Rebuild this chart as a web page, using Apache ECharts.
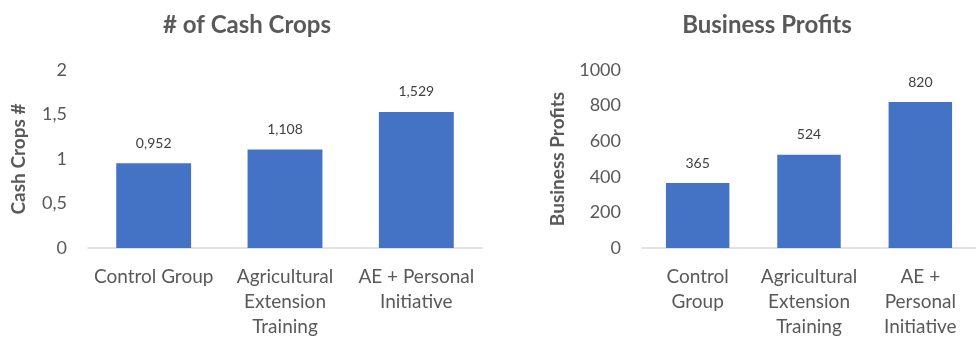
<!DOCTYPE html>
<html><head><meta charset="utf-8">
<script src="https://cdn.jsdelivr.net/npm/echarts@6/dist/echarts.min.js"></script>
<style>html,body{margin:0;padding:0;background:#fff}#c{width:976px;height:340px}</style>
</head><body><div id="c"></div>
<script>
const cropCategories = ['Control Group', 'Agricultural\nExtension\nTraining', 'AE + Personal\nInitiative'];
const cropValues = [0.952, 1.108, 1.529];
const profitCategories = ['Control\nGroup', 'Agricultural\nExtension\nTraining', 'AE +\nPersonal\nInitiative'];
const profitValues = [365, 524, 820];
const cropTicks = ['0', '0,5', '1', '1,5', '2'];
const profitTicks = ['0', '200', '400', '600', '800', '1000'];

const FONT = 'Lato';
const chart = echarts.init(document.getElementById('c'), null, {renderer: 'canvas'});
function xAx(idx, cats) {
  return {
    type: 'category', gridIndex: idx, data: cats,
    axisLine: {lineStyle: {color: '#d9d9d9', width: 1.5}},
    axisTick: {show: false},
    axisLabel: {color: '#595959', fontFamily: FONT, fontSize: 19, lineHeight: 25, margin: 16, interval: 0}
  };
}
function yAx(idx, max, interval, ticks, name, gap) {
  return {
    type: 'value', gridIndex: idx, min: 0, max: max, interval: interval,
    splitLine: {show: false}, axisLine: {show: false}, axisTick: {show: false},
    axisLabel: {color: '#595959', fontFamily: FONT, fontSize: 18, margin: 21,
      formatter: (v) => ticks[Math.round(v / interval)]},
    name: name, nameLocation: 'middle', nameGap: gap,
    nameTextStyle: {color: '#595959', fontFamily: FONT, fontSize: 19, fontWeight: 'bold'}
  };
}
chart.setOption({
  animation: false,
  title: [
    {text: '# of Cash Crops', left: 242, top: 8, textAlign: 'center',
      textStyle: {color: '#595959', fontFamily: FONT, fontSize: 24, fontWeight: 'bold'}},
    {text: 'Business Profits', left: 762, top: 8, textAlign: 'center',
      textStyle: {color: '#595959', fontFamily: FONT, fontSize: 24, fontWeight: 'bold'}}
  ],
  grid: [
    {left: 88, top: 70, width: 394, height: 178},
    {left: 642, top: 70, width: 342, height: 178}
  ],
  xAxis: [xAx(0, cropCategories), xAx(1, profitCategories)],
  yAxis: [yAx(0, 2, 0.5, cropTicks, 'Cash Crops #', 60), yAx(1, 1000, 200, profitTicks, 'Business Profits', 75)],
  series: [
    {type: 'bar', xAxisIndex: 0, yAxisIndex: 0, data: cropValues, barWidth: '57%',
      itemStyle: {color: '#4472C4'},
      label: {show: true, position: 'top', distance: 13, color: '#404040', fontFamily: FONT, fontSize: 14,
        formatter: (p) => p.value.toFixed(3).replace('.', ',')}},
    {type: 'bar', xAxisIndex: 1, yAxisIndex: 1, data: profitValues, barWidth: '57%',
      itemStyle: {color: '#4472C4'},
      label: {show: true, position: 'top', distance: 13, color: '#404040', fontFamily: FONT, fontSize: 14}}
  ]
});
</script></body></html>
